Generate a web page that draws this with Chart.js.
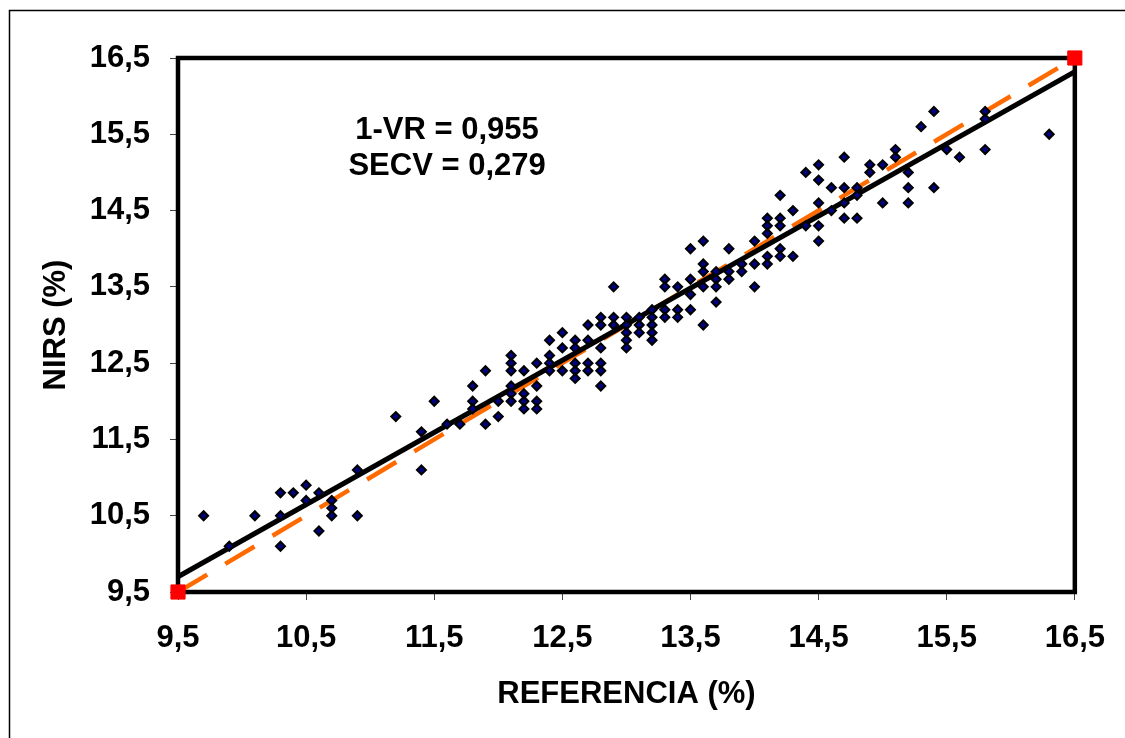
<!DOCTYPE html>
<html>
<head>
<meta charset="utf-8">
<script src="https://cdn.jsdelivr.net/npm/chart.js"></script>
<style>
  html, body { margin: 0; padding: 0; background: #fff; }
  #wrap { width: 1125px; height: 738px; }
</style>
</head>
<body>
<div id="wrap"><canvas id="myChart" width="1125" height="738"></canvas></div>
<script>
// reference value (x) and NIRS prediction (y), one group per line
const refValues = [
  9.7, 9.9, 10.1, 10.3, 10.3, 10.3, 10.4, 10.5, 10.5, 10.6, 10.6,
  10.7, 10.7, 10.7, 10.9, 10.9, 11.2, 11.4, 11.4, 11.5, 11.6, 11.7,
  11.8, 11.8, 11.8, 11.9, 11.9, 12.0, 12.0,
  12.1, 12.1, 12.1, 12.1, 12.1, 12.1, 12.2, 12.2, 12.2, 12.2,
  12.3, 12.3, 12.3, 12.3, 12.4, 12.4, 12.4, 12.4,
  12.5, 12.5, 12.5, 12.6, 12.6, 12.6, 12.6, 12.6,
  12.7, 12.7, 12.7, 12.7, 12.8, 12.8, 12.8, 12.8, 12.8, 12.8,
  12.9, 12.9, 12.9, 13.0, 13.0, 13.0, 13.0, 13.0,
  13.1, 13.1, 13.1, 13.2, 13.2, 13.2, 13.2, 13.2,
  13.3, 13.3, 13.3, 13.3, 13.4, 13.4, 13.4,
  13.5, 13.5, 13.5, 13.5, 13.6, 13.6, 13.6, 13.6, 13.6,
  13.7, 13.7, 13.7, 13.7, 13.8, 13.8, 13.8, 13.9, 13.9,
  14.0, 14.0, 14.0, 14.1, 14.1, 14.1, 14.1, 14.1,
  14.2, 14.2, 14.2, 14.2, 14.2, 14.3, 14.3, 14.4, 14.4,
  14.5, 14.5, 14.5, 14.5, 14.5, 14.6, 14.6,
  14.7, 14.7, 14.7, 14.7, 14.8, 14.8, 14.8,
  14.9, 14.9, 15.0, 15.0, 15.1, 15.1, 15.2, 15.2, 15.2,
  15.3, 15.4, 15.4, 15.5, 15.6, 15.8, 15.8, 15.8, 16.3,
];
const nirsValues = [
  10.5, 10.1, 10.5, 10.8, 10.5, 10.1, 10.8, 10.9, 10.7, 10.8, 10.3,
  10.7, 10.6, 10.5, 11.1, 10.5, 11.8, 11.6, 11.1, 12.0, 11.7, 11.7,
  12.2, 12.0, 11.9, 12.4, 11.7, 12.0, 11.8,
  12.6, 12.5, 12.4, 12.2, 12.1, 12.0, 12.4, 12.1, 12.0, 11.9,
  12.5, 12.2, 12.0, 11.9, 12.8, 12.6, 12.5, 12.4,
  12.9, 12.7, 12.4, 12.8, 12.7, 12.5, 12.4, 12.3,
  13.0, 12.8, 12.5, 12.4, 13.1, 13.0, 12.7, 12.5, 12.4, 12.2,
  13.5, 13.1, 13.0, 13.1, 13.0, 12.9, 12.8, 12.7,
  13.1, 13.0, 12.9, 13.2, 13.1, 13.0, 12.9, 12.8,
  13.6, 13.5, 13.2, 13.1, 13.5, 13.2, 13.1,
  14.0, 13.6, 13.4, 13.2, 14.1, 13.8, 13.7, 13.5, 13.0,
  13.7, 13.6, 13.5, 13.3, 14.0, 13.7, 13.6, 13.8, 13.7,
  14.1, 13.8, 13.5, 14.4, 14.3, 14.2, 13.9, 13.8,
  14.7, 14.4, 14.3, 14.0, 13.9, 14.5, 13.9, 15.0, 14.3,
  15.1, 14.9, 14.6, 14.3, 14.1, 14.8, 14.5,
  15.2, 14.8, 14.6, 14.4, 14.8, 14.7, 14.4,
  15.1, 15.0, 15.1, 14.6, 15.3, 15.2, 15.0, 14.8, 14.6,
  15.6, 15.8, 14.8, 15.3, 15.2, 15.8, 15.7, 15.3, 15.5,
];

// regression line ends and the 1:1 line
const fitRef = [9.5, 16.5];
const fitNirs = [9.7, 16.32];
const idealLine = [9.5, 16.5];

const tickValues = [9.5, 10.5, 11.5, 12.5, 13.5, 14.5, 15.5, 16.5];
const tickLabels = ["9,5", "10,5", "11,5", "12,5", "13,5", "14,5", "15,5", "16,5"];

const statLines = ["1-VR = 0,955", "SECV = 0,279"];
const statPos = { x: 11.6, y: [15.55, 15.08] };

const FONT = "'Liberation Sans', Arial, sans-serif";
const SIZE = 31;
Chart.defaults.font.family = FONT;
Chart.defaults.color = "#000";

const points = refValues.map((x, i) => ({ x: x, y: nirsValues[i] }));
const fitPts = fitRef.map((x, i) => ({ x: x, y: fitNirs[i] }));
const idealPts = idealLine.map((v) => ({ x: v, y: v }));

const background = {
  id: "background",
  beforeDraw(chart) {
    const ctx = chart.ctx;
    ctx.save();
    ctx.fillStyle = "#fff";
    ctx.fillRect(0, 0, chart.width, chart.height);
    ctx.strokeStyle = "#000";
    ctx.lineWidth = 1.5;
    ctx.beginPath();
    ctx.moveTo(9.5, chart.height);
    ctx.lineTo(9.5, 10.5);
    ctx.lineTo(chart.width, 10.5);
    ctx.stroke();
    ctx.restore();
  },
};

const frame = {
  id: "frame",
  beforeDatasetsDraw(chart) {
    const { ctx, chartArea: a } = chart;
    ctx.save();
    ctx.strokeStyle = "#000";
    ctx.lineWidth = 4.5;
    ctx.strokeRect(a.left, a.top, a.right - a.left, a.bottom - a.top);
    ctx.restore();
  },
};

const stats = {
  id: "stats",
  afterDatasetsDraw(chart) {
    const { ctx, scales } = chart;
    ctx.save();
    ctx.font = "bold " + SIZE + "px " + FONT;
    ctx.fillStyle = "#000";
    ctx.textAlign = "center";
    ctx.textBaseline = "middle";
    statLines.forEach((t, i) => {
      ctx.fillText(t, scales.x.getPixelForValue(statPos.x), scales.y.getPixelForValue(statPos.y[i]));
    });
    ctx.restore();
  },
};

function axis(title, titlePad, fit) {
  return {
    type: "linear",
    min: 9.5,
    max: 16.5,
    afterBuildTicks: (scale) => {
      scale.ticks = tickValues.map((v) => ({ value: v }));
    },
    afterFit: fit,
    border: { display: false },
    grid: {
      drawOnChartArea: false,
      drawTicks: true,
      tickLength: 8,
      color: "#444",
      lineWidth: 1,
    },
    ticks: {
      autoSkip: false,
      maxRotation: 0,
      padding: 20,
      font: { size: SIZE, weight: "bold" },
      callback: (v) => tickLabels[tickValues.indexOf(v)],
    },
    title: {
      display: true,
      text: title,
      font: { size: SIZE, weight: "bold" },
      padding: titlePad,
    },
  };
}

const ctx = document.getElementById("myChart");

new Chart(ctx, {
  type: "scatter",
  data: {
    datasets: [
      {
        label: "muestras",
        data: points,
        pointStyle: "rectRot",
        pointRadius: 4.5,
        pointHoverRadius: 4.5,
        backgroundColor: "#000080",
        borderColor: "#000",
        borderWidth: 2,
        order: 0,
      },
      {
        label: "ajuste",
        data: fitPts,
        showLine: true,
        borderColor: "#000",
        borderWidth: 5,
        pointRadius: 0,
        order: 1,
      },
      {
        label: "1:1",
        data: idealPts,
        showLine: true,
        borderColor: "#FF6A00",
        borderWidth: 4.5,
        borderDash: [34, 21],
        pointStyle: "rect",
        pointRadius: 10,
        pointBackgroundColor: "#FF0000",
        pointBorderColor: "#FF0000",
        pointBorderWidth: 1,
        clip: false,
        order: 2,
      },
    ],
  },
  options: {
    responsive: false,
    animation: false,
    layout: { padding: { top: 58, right: 50, left: 0, bottom: 0 } },
    plugins: {
      legend: { display: false },
      tooltip: { enabled: false },
    },
    scales: {
      x: axis("REFERENCIA (%)", { top: 0, bottom: 25 }, (s) => { s.height = 146; }),
      y: axis("NIRS (%)", { top: 38, bottom: 0 }, (s) => { s.width = 178; }),
    },
  },
  plugins: [background, frame, stats],
});
</script>
</body>
</html>
